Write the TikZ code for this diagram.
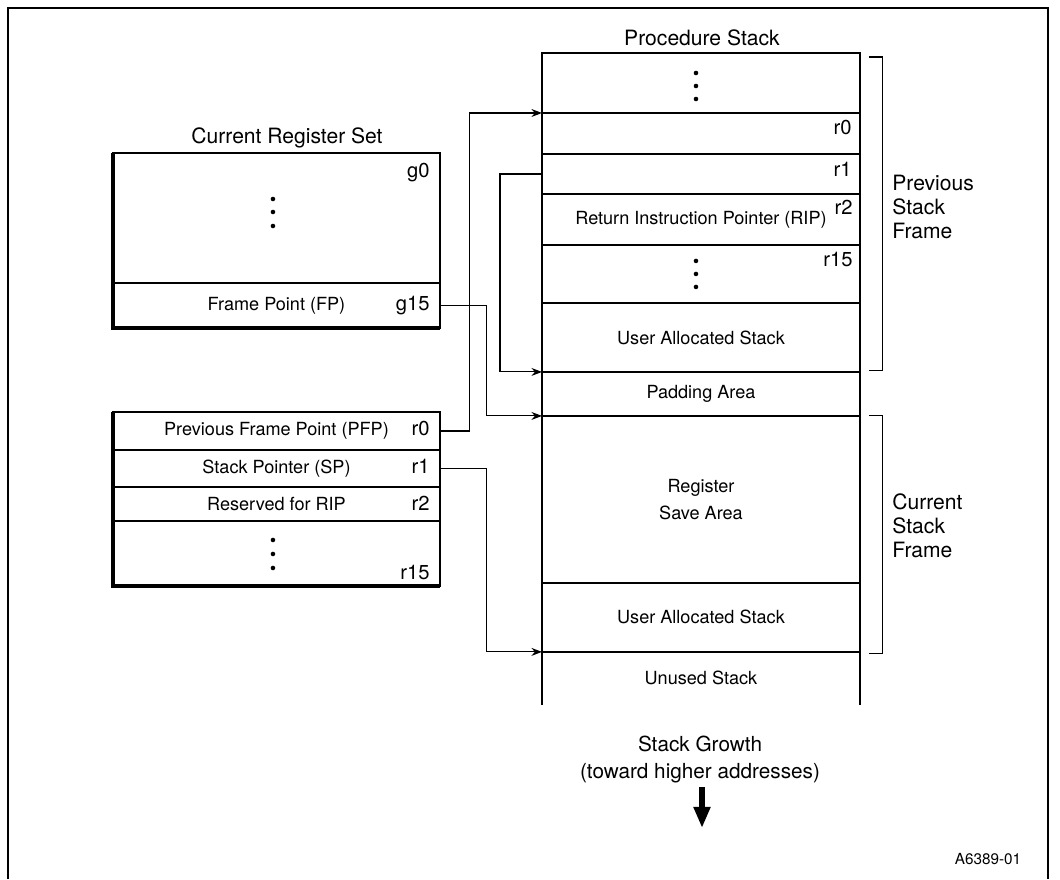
\documentclass[tikz,border=0pt]{standalone}
\usepackage{fontspec}
\setmainfont{TeX Gyre Heros}
\usetikzlibrary{arrows.meta,calc,positioning}
\newcommand\cellfont{\fontsize{10.3}{15}\selectfont}
\newcommand\lblfont{\fontsize{11.5}{14}\selectfont}
\newcommand\headfont{\fontsize{12}{13.7}\selectfont}

\begin{document}
\begin{tikzpicture}[x=0.02cm,y=-0.02cm,>=Stealth,
    stackcell/.style={draw,line width=1.1pt,minimum width=6.36cm,inner sep=0pt,outer sep=0pt,font=\cellfont},
    regcell/.style={draw,line width=0.7pt,minimum width=6.54cm,inner sep=0pt,outer sep=0pt,font=\cellfont},
    reglbl/.style={inner sep=0pt,font=\lblfont},
    head/.style={inner sep=0pt,font=\headfont},
    link/.style={->,line width=0.6pt,>={Stealth[length=6pt,width=4.5pt]}},
    bracket/.style={line width=0.6pt}]
      \useasboundingbox (0,0) rectangle (1060,879);
      \draw[line width=0.6pt] (8,879) |- (1048,8) -- (1048,879);

      \node[head,anchor=base] (ptitle) at (702,45) {Procedure Stack};
      \node[stackcell,minimum height=1.2cm,anchor=north west] (stop) at (542,53) {};
      \node[stackcell,minimum height=0.82cm,below=0pt of stop] (sr0) {};
      \node[stackcell,minimum height=0.8cm,below=0pt of sr0] (sr1) {};
      \node[stackcell,minimum height=1.02cm,below=0pt of sr1] (sr2) {Return Instruction Pointer (RIP)};
      \node[stackcell,minimum height=1.16cm,below=0pt of sr2] (sr15) {};
      \node[stackcell,minimum height=1.38cm,below=0pt of sr15] (puser) {User Allocated Stack};
      \node[stackcell,minimum height=0.88cm,below=0pt of puser] (pad) {Padding Area};
      \node[stackcell,minimum height=3.34cm,below=0pt of pad,align=center] (rsave) {Register\\Save Area};
      \node[stackcell,minimum height=1.38cm,below=0pt of rsave] (cuser) {User Allocated Stack};
      \node[stackcell,draw=none,minimum height=1.06cm,below=0pt of cuser] (unused) {Unused Stack};
      \draw[line width=1.1pt] (unused.north west) -- (unused.south west) (unused.north east) -- (unused.south east);

      \node[reglbl,anchor=north east] (sl0) at ($(sr0.north east)+(-8,7)$) {r0};
      \node[reglbl,anchor=north east] (sl1) at ($(sr1.north east)+(-8,8)$) {r1};
      \node[reglbl,anchor=north east] (sl2) at ($(sr2.north east)+(-7,6)$) {r2};
      \node[reglbl,anchor=north east] (sl15) at ($(sr15.north east)+(-7,7)$) {r15};
      \foreach \d in {-10,3,16} \fill ($(stop.center)+(-5,\d)$) circle (1.3pt);
      \foreach \d in {-13,0,13} \fill ($(sr15.center)+(-5,\d)$) circle (1.3pt);

      \draw[bracket] ($(stop.north east)+(9,4)$) -- ++(14,0) |- ($(puser.south east)+(9,-1)$);
      \draw[bracket] ($(rsave.north east)+(9,0)$) -- ++(14,0) |- ($(cuser.south east)+(9,2)$);
      \node[head,anchor=west,align=left] (prevlbl) at (892,207) {Previous\\Stack\\Frame};
      \node[head,anchor=west,align=left] (curlbl) at (892,526) {Current\\Stack\\Frame};

      \node[head,anchor=base] (gtitle) at (287,143) {Current Register Set};
      \node[regcell,minimum height=2.6cm,anchor=north west] (gtop) at (113,153) {};
      \node[regcell,minimum height=0.9cm,below=0pt of gtop] (fp) {Frame Point (FP)};
      \draw[line width=2.3pt] (gtop.north west) |- (fp.south east);
      \node[reglbl,anchor=north east] (lg0) at ($(gtop.north east)+(-10,10)$) {g0};
      \node[reglbl,anchor=base east] (lg15) at ($(fp.base east)+(-10,0)$) {g15};
      \foreach \d in {-19,-6,8} \fill ($(gtop.center)+(-3.5,\d)$) circle (1.3pt);

      \node[regcell,minimum height=0.76cm,anchor=north west] (pfp) at (113,412) {Previous Frame Point (PFP)};
      \node[regcell,minimum height=0.74cm,below=0pt of pfp] (sp) {Stack Pointer (SP)};
      \node[regcell,minimum height=0.68cm,below=0pt of sp] (rrip) {Reserved for RIP};
      \node[regcell,minimum height=1.3cm,below=0pt of rrip] (rrest) {};
      \draw[line width=2.3pt] (pfp.north west) |- (rrest.south east);
      \node[reglbl,anchor=base east] (lr0) at ($(pfp.base east)+(-10,0)$) {r0};
      \node[reglbl,anchor=base east] (lr1) at ($(sp.base east)+(-10,0)$) {r1};
      \node[reglbl,anchor=base east] (lr2) at ($(rrip.base east)+(-10,0)$) {r2};
      \node[reglbl,anchor=south east] (lr15) at ($(rrest.south east)+(-10,-6)$) {r15};
      \foreach \d in {-13.5,0.5,14.5} \fill ($(rrest.center)+(-3.5,\d)$) circle (1.3pt);

      \draw[link] (pfp.east) -- ++(30,0) |- (sr0.north west);
      \draw[link] (fp.east) -- ++(47,0) |- (rsave.north west);
      \draw[link] (sr1.west) -- ++(-42,0) |- (pad.north west);
      \draw[link] (sp.east) -- ++(47,0) |- (unused.north west);

      \node[inner sep=0pt,align=center,anchor=north,font=\fontsize{11.8}{15.4}\selectfont] (growth) at (700,736) {Stack Growth\\(toward higher addresses)};
      \coordinate (gtip) at (702,828);
      \draw[line width=3pt,-{Triangle[length=12pt,width=9pt]},shorten <=2pt] (growth.south -| gtip) -- (gtip);
      \node[inner sep=0pt,anchor=base,font=\fontsize{8.7}{10}\selectfont] (figid) at (988,864) {A6389-01};
    \end{tikzpicture}
\end{document}
